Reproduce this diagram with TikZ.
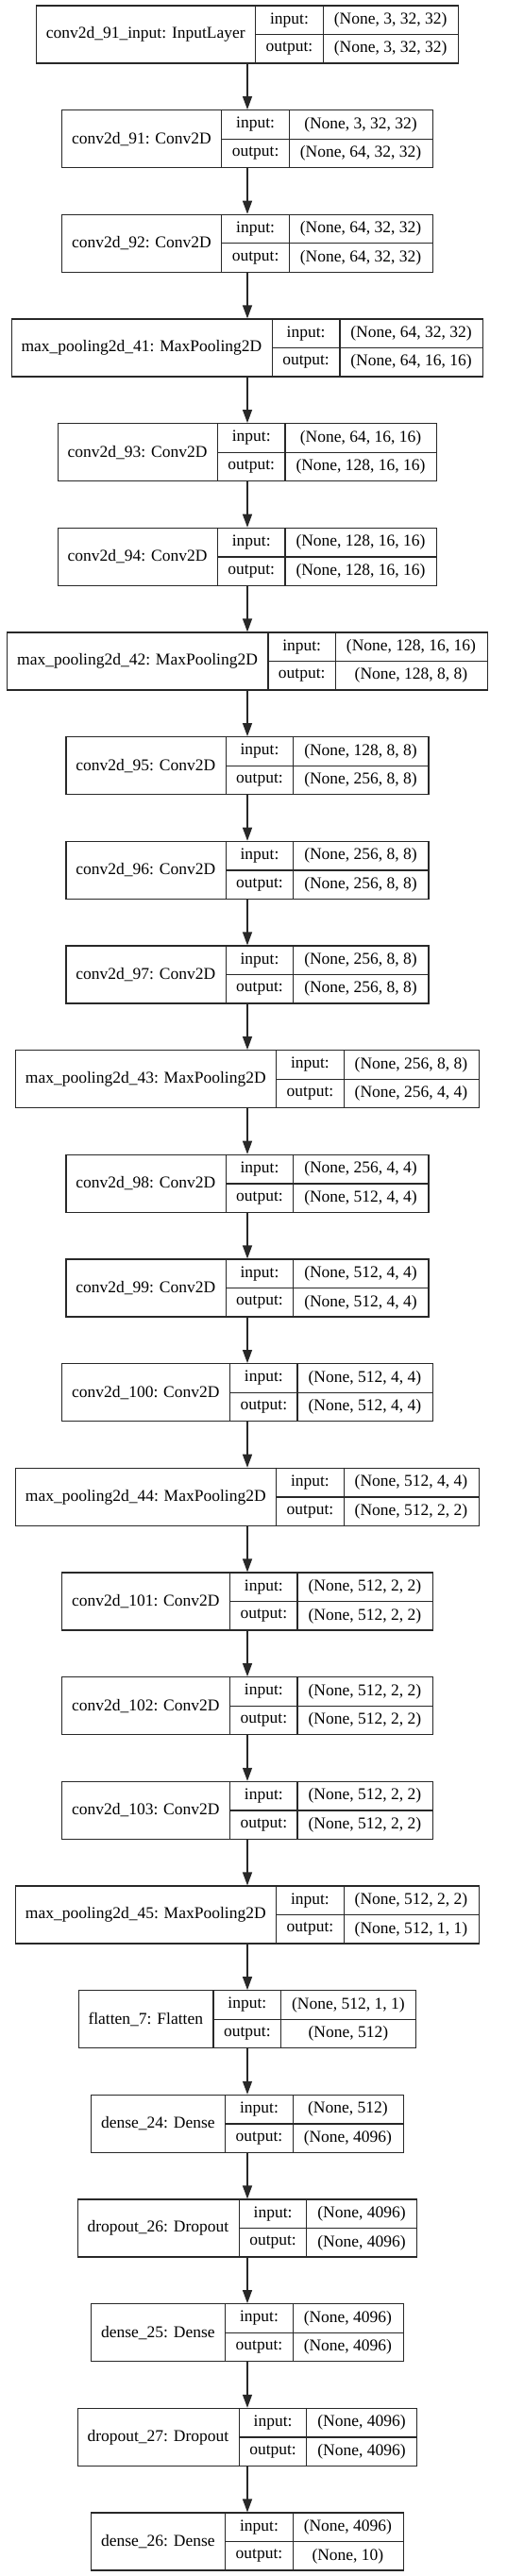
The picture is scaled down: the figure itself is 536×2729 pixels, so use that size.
\documentclass[tikz,border=0pt]{standalone}
\usepackage{fontspec}
\setmainfont{Liberation Serif}
\usetikzlibrary{arrows.meta, positioning, calc}
\definecolor{edgeline}{RGB}{40,40,40}
\newcommand{\layerfont}{\fontsize{17.5}{21}\selectfont}
\newlength{\namewd}
\newlength{\inwd}
\newlength{\outwd}
\newlength{\labwd}
\tikzset{
  layerbox/.style={draw=edgeline, line width=1.3pt, rectangle,
                   inner sep=0pt, minimum height=61pt},
  cell/.style={font=\layerfont, inner sep=0pt, anchor=center},
  cellline/.style={draw=edgeline, line width=1.3pt},
  flow/.style={draw=edgeline, line width=1.3pt,
               -{Triangle[length=14pt, width=10pt]}}
}
% text width, measured outside the picture's null font
\newcommand{\measure}[2]{%
  \pgfinterruptpicture\settowidth{#1}{\layerfont #2}\global#1=#1\endpgfinterruptpicture}
% one keras layer record: name | input:/output: | shapes
\newcommand{\layer}[5]{%
  \measure{\namewd}{#3}%
  \measure{\inwd}{#4}%
  \measure{\outwd}{#5}%
  \pgfmathsetmacro{\wn}{\namewd+22}%
  \pgfmathsetmacro{\wl}{\labwd+22}%
  \pgfmathsetmacro{\wv}{max(\inwd,\outwd)+23}%
  \pgfmathsetmacro{\wt}{\wn+\wl+\wv}%
  \pgfmathsetmacro{\cy}{-(6+#2*110.67+30.5)}%
  \node[layerbox, minimum width=\wt] (#1) at (262,\cy) {};
  \draw[cellline] ($(#1.north west)+(\wn,0)$) -- ($(#1.south west)+(\wn,0)$);
  \draw[cellline] ($(#1.north west)+(\wn+\wl,0)$) -- ($(#1.south west)+(\wn+\wl,0)$);
  \draw[cellline] ($(#1.west)+(\wn,0)$) -- (#1.east);
  \node[cell] (#1-name) at ($(#1.west)+(\wn/2,0)$) {#3};
  \node[cell] (#1-inlab) at ($(#1.west)+(\wn+\wl/2,15.25)$) {input:};
  \node[cell] (#1-outlab) at ($(#1.west)+(\wn+\wl/2,-15.25)$) {output:};
  \node[cell] (#1-in) at ($(#1.west)+(\wn+\wl+\wv/2,15.25)$) {#4};
  \node[cell] (#1-out) at ($(#1.west)+(\wn+\wl+\wv/2,-15.25)$) {#5};
}

\begin{document}
\begin{tikzpicture}[x=1pt, y=1pt]
  \useasboundingbox (0,0) rectangle (536,-2729);
  \measure{\labwd}{output:}
  % ── Layers ──
  \layer{L0}{0}{conv2d\_91\_input: InputLayer}{(None, 3, 32, 32)}{(None, 3, 32, 32)}
  \layer{L1}{1}{conv2d\_91: Conv2D}{(None, 3, 32, 32)}{(None, 64, 32, 32)}
  \layer{L2}{2}{conv2d\_92: Conv2D}{(None, 64, 32, 32)}{(None, 64, 32, 32)}
  \layer{L3}{3}{max\_pooling2d\_41: MaxPooling2D}{(None, 64, 32, 32)}{(None, 64, 16, 16)}
  \layer{L4}{4}{conv2d\_93: Conv2D}{(None, 64, 16, 16)}{(None, 128, 16, 16)}
  \layer{L5}{5}{conv2d\_94: Conv2D}{(None, 128, 16, 16)}{(None, 128, 16, 16)}
  \layer{L6}{6}{max\_pooling2d\_42: MaxPooling2D}{(None, 128, 16, 16)}{(None, 128, 8, 8)}
  \layer{L7}{7}{conv2d\_95: Conv2D}{(None, 128, 8, 8)}{(None, 256, 8, 8)}
  \layer{L8}{8}{conv2d\_96: Conv2D}{(None, 256, 8, 8)}{(None, 256, 8, 8)}
  \layer{L9}{9}{conv2d\_97: Conv2D}{(None, 256, 8, 8)}{(None, 256, 8, 8)}
  \layer{L10}{10}{max\_pooling2d\_43: MaxPooling2D}{(None, 256, 8, 8)}{(None, 256, 4, 4)}
  \layer{L11}{11}{conv2d\_98: Conv2D}{(None, 256, 4, 4)}{(None, 512, 4, 4)}
  \layer{L12}{12}{conv2d\_99: Conv2D}{(None, 512, 4, 4)}{(None, 512, 4, 4)}
  \layer{L13}{13}{conv2d\_100: Conv2D}{(None, 512, 4, 4)}{(None, 512, 4, 4)}
  \layer{L14}{14}{max\_pooling2d\_44: MaxPooling2D}{(None, 512, 4, 4)}{(None, 512, 2, 2)}
  \layer{L15}{15}{conv2d\_101: Conv2D}{(None, 512, 2, 2)}{(None, 512, 2, 2)}
  \layer{L16}{16}{conv2d\_102: Conv2D}{(None, 512, 2, 2)}{(None, 512, 2, 2)}
  \layer{L17}{17}{conv2d\_103: Conv2D}{(None, 512, 2, 2)}{(None, 512, 2, 2)}
  \layer{L18}{18}{max\_pooling2d\_45: MaxPooling2D}{(None, 512, 2, 2)}{(None, 512, 1, 1)}
  \layer{L19}{19}{flatten\_7: Flatten}{(None, 512, 1, 1)}{(None, 512)}
  \layer{L20}{20}{dense\_24: Dense}{(None, 512)}{(None, 4096)}
  \layer{L21}{21}{dropout\_26: Dropout}{(None, 4096)}{(None, 4096)}
  \layer{L22}{22}{dense\_25: Dense}{(None, 4096)}{(None, 4096)}
  \layer{L23}{23}{dropout\_27: Dropout}{(None, 4096)}{(None, 4096)}
  \layer{L24}{24}{dense\_26: Dense}{(None, 4096)}{(None, 10)}
  % ── Connections ──
  \foreach \a/\b in {0/1, 1/2, 2/3, 3/4, 4/5, 5/6, 6/7, 7/8, 8/9, 9/10,
                     10/11, 11/12, 12/13, 13/14, 14/15, 15/16, 16/17,
                     17/18, 18/19, 19/20, 20/21, 21/22, 22/23, 23/24}
    \draw[flow] (L\a.south) -- (L\b.north);
\end{tikzpicture}
\end{document}
